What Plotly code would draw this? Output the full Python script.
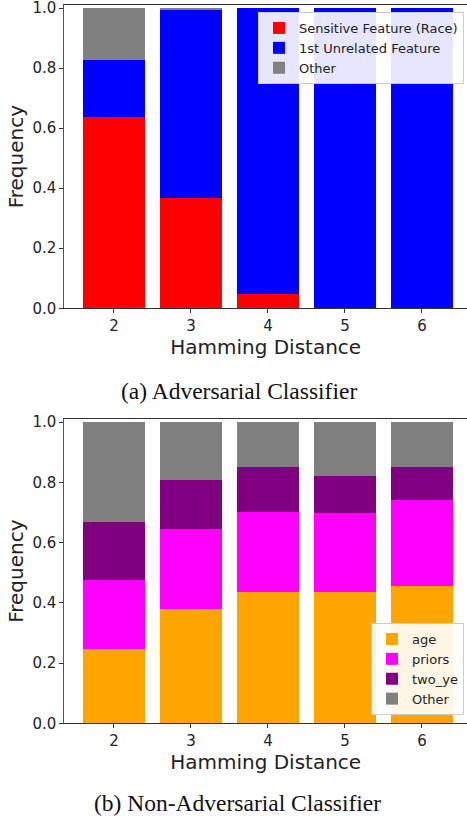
import plotly.graph_objects as go

# ---------------- data ----------------
hamming = [2, 3, 4, 5, 6]
tick_labels = ["2", "3", "4", "5", "6"]

# (a) Adversarial Classifier
adv_race = [0.637, 0.366, 0.047, 0.0, 0.0]
adv_unrelated = [0.189, 0.627, 0.953, 1.0, 1.0]
adv_other = [0.174, 0.007, 0.0, 0.0, 0.0]

# (b) Non-Adversarial Classifier
non_age = [0.247, 0.379, 0.435, 0.435, 0.457]
non_priors = [0.229, 0.266, 0.265, 0.262, 0.284]
non_two_ye = [0.191, 0.161, 0.151, 0.124, 0.110]
non_other = [0.333, 0.194, 0.149, 0.179, 0.149]

yticks = [0.0, 0.2, 0.4, 0.6, 0.8, 1.0]
ytick_text = ["0.0", "0.2", "0.4", "0.6", "0.8", "1.0"]

W, H = 467, 820
SANS = "DejaVu Sans"
SERIF = "Liberation Serif"

fig = go.Figure()

top_series = [
    ("Sensitive Feature (Race)", adv_race, "#ff0000"),
    ("1st Unrelated Feature", adv_unrelated, "#0000ff"),
    ("Other", adv_other, "#808080"),
]
for name, vals, col in top_series:
    fig.add_trace(go.Bar(
        x=hamming, y=vals, name=name, width=0.8,
        marker=dict(color=col, line=dict(width=0)),
        xaxis="x", yaxis="y", legend="legend",
    ))

bot_series = [
    ("age", non_age, "#ffa500"),
    ("priors", non_priors, "#ff00ff"),
    ("two_ye", non_two_ye, "#800080"),
    ("Other", non_other, "#808080"),
]
for name, vals, col in bot_series:
    fig.add_trace(go.Bar(
        x=hamming, y=vals, name=name, width=0.8,
        marker=dict(color=col, line=dict(width=0)),
        xaxis="x2", yaxis="y2", legend="legend2",
    ))

xdom = [64.3 / W, 1.0]
top_dom = [(H - 308.3) / H, (H - 5) / H]
bot_dom = [(H - 723.3) / H, (H - 419) / H]

xcommon = dict(
    range=[1.355, 6.585], tickmode="array", tickvals=hamming, ticktext=tick_labels,
    showgrid=False, zeroline=False, showline=True, linecolor="#333", linewidth=1,
    mirror=True, ticks="outside", ticklen=4, tickcolor="#333",
    tickfont=dict(family=SANS, size=15, color="#222"), ticklabeloverflow="allow",
    title=dict(text="Hamming Distance", font=dict(family=SANS, size=20, color="#222"), standoff=3),
    domain=xdom, automargin=False,
)
ycommon = dict(
    range=[0, 1.01], tickmode="array", tickvals=yticks, ticktext=ytick_text,
    showgrid=False, zeroline=False, showline=True, linecolor="#555", linewidth=1,
    ticks="outside", ticklen=4, tickcolor="#333",
    tickfont=dict(family=SANS, size=15, color="#222"), ticklabeloverflow="allow",
    title=dict(text="Frequency", font=dict(family=SANS, size=20, color="#222"), standoff=3),
    automargin=False,
)

legend_common = dict(
    bgcolor="rgba(255,255,255,0.9)", bordercolor="#cccccc", borderwidth=1,
    font=dict(family=SANS, size=13, color="#222"), traceorder="normal",
    xanchor="right", itemwidth=30,
)

fig.update_layout(
    width=W, height=H, margin=dict(l=0, r=0, t=0, b=0),
    paper_bgcolor="white", plot_bgcolor="white",
    barmode="stack",
    xaxis=dict(xcommon, anchor="y"),
    yaxis=dict(ycommon, domain=top_dom, anchor="x"),
    xaxis2=dict(xcommon, anchor="y2"),
    yaxis2=dict(ycommon, domain=bot_dom, anchor="x2"),
    legend=dict(legend_common, x=464 / W, y=(H - 12) / H, yanchor="top"),
    legend2=dict(legend_common, x=464 / W, y=(H - 715) / H, yanchor="bottom"),
    annotations=[
        dict(text="(a) Adversarial Classifier", x=238.5 / W, y=(H - 391) / H,
             xref="paper", yref="paper", showarrow=False, xanchor="center", yanchor="middle",
             font=dict(family=SERIF, size=23.5, color="#111")),
        dict(text="(b) Non-Adversarial Classifier", x=238 / W, y=(H - 803) / H,
             xref="paper", yref="paper", showarrow=False, xanchor="center", yanchor="middle",
             font=dict(family=SERIF, size=23.5, color="#111")),
    ],
)

fig.write_html(
    "out.html",
    config={"displayModeBar": False},
    post_script="document.body.style.margin='0';document.body.style.overflow='hidden';",
)
